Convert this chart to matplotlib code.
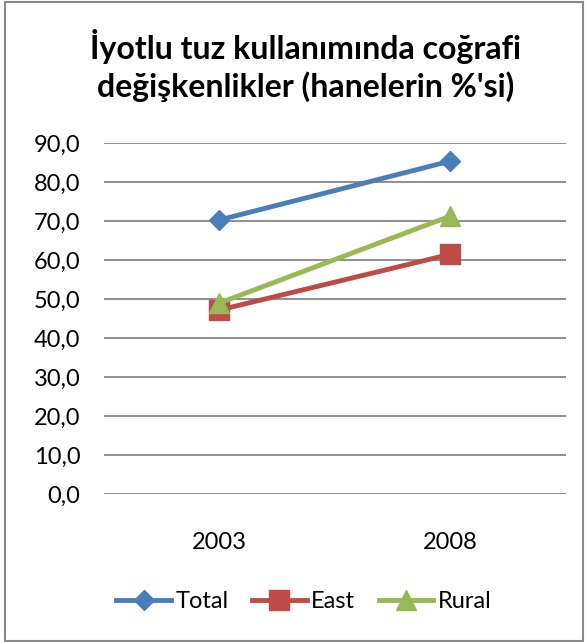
import matplotlib.pyplot as plt
from matplotlib.ticker import FuncFormatter
from matplotlib.patches import Rectangle

plt.rcParams['font.family'] = ['Lato', 'DejaVu Sans']

# Donnees
years = ['2003', '2008']
total = [70.3, 85.4]
east = [47.2, 61.5]
rural = [49.0, 71.3]

title = "İyotlu tuz kullanımında coğrafi\ndeğişkenlikler (hanelerin %'si)"

fig = plt.figure(figsize=(5.87, 6.42), dpi=100)
ax = fig.add_axes([0.177, 0.2305, 0.787, 0.5465])

x = range(len(years))
ax.plot(x, total, color='#4a7ebb', lw=3.5, marker='D', ms=10, label='Total')
ax.plot(x, east, color='#be4b48', lw=3.5, marker='s', ms=14, label='East')
ax.plot(x, rural, color='#98b954', lw=3.5, marker='^', ms=14, label='Rural')

ax.set_xlim(-0.5, 1.5)
ax.set_ylim(0, 90)
ax.set_yticks(range(0, 91, 10))
ax.yaxis.set_major_formatter(FuncFormatter(lambda v, p: f"{v:.1f}".replace('.', ',')))
ax.set_xticks(list(x))
ax.set_xticklabels(years)
ax.tick_params(axis='both', length=0, labelsize=17)
ax.tick_params(axis='y', pad=17)
ax.tick_params(axis='x', pad=27)
ax.grid(axis='y', color='#868686', lw=1.3)
ax.set_axisbelow(True)
for s in ax.spines.values():
    s.set_visible(False)

fig.text(0.52, 0.898, title, ha='center', va='center', fontsize=23,
         fontweight='bold', linespacing=1.25)

fig.legend(loc='center', bbox_to_anchor=(0.518, 0.063), ncol=3, frameon=False,
           fontsize=17, handlelength=2.3, handletextpad=0.2, columnspacing=1.0)

# cadre
fig.patches.append(Rectangle((0.009, 0.002), 0.985, 0.995, transform=fig.transFigure,
                             fill=False, ec='#898989', lw=1.5))

fig.savefig('out.png', dpi=100)
